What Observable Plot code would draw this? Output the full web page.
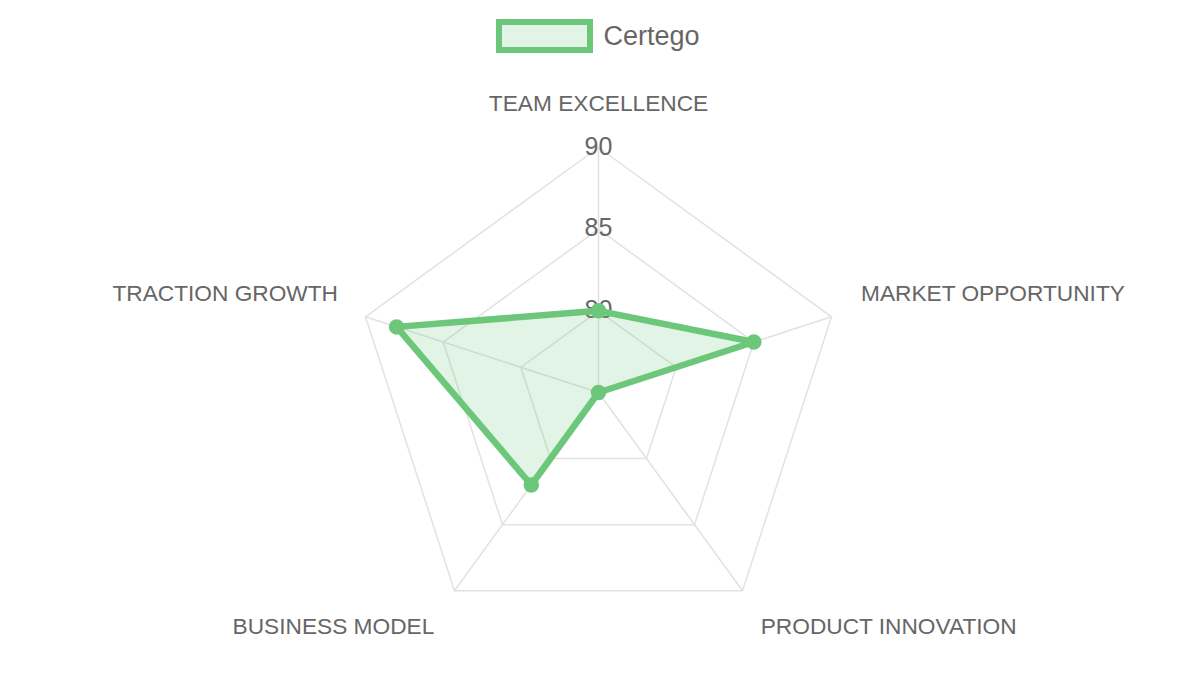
<!DOCTYPE html>
<html>
<head>
<meta charset="utf-8">
<script src="https://cdn.jsdelivr.net/npm/d3@7"></script>
<script src="https://cdn.jsdelivr.net/npm/@observablehq/plot@0.6"></script>
<style>
  html, body { margin: 0; padding: 0; background: #fff; }
  body { width: 1200px; height: 675px; overflow: hidden; font-family: "Liberation Sans", Arial, sans-serif; }
  #legend { height: 70px; display: flex; justify-content: center; align-items: flex-start; }
  #legend .item { display: flex; align-items: center; margin-top: 19px; margin-left: -4px; }
  #legend .swatch { box-sizing: border-box; width: 97px; height: 34px; border: 6px solid #6cc77b; background: rgba(108,199,123,0.2); }
  #legend .label { margin-left: 10px; font-size: 27px; color: #666; line-height: 34px; }
</style>
</head>
<body>
<div id="legend"><div class="item"><div class="swatch"></div><div class="label"></div></div></div>
<div id="chart"></div>
<script>
// ---- data ----
const categories = ["TEAM EXCELLENCE", "MARKET OPPORTUNITY", "PRODUCT INNOVATION", "BUSINESS MODEL", "TRACTION GROWTH"];
const values = [80, 85, 75, 82, 88];
const seriesName = "Certego";
const tickValues = [80, 85, 90];
const scaleMin = 75;
const scaleMax = 90;

// ---- layout ----
const W = 1200, H = 605, cx = 598, cy = 322, R = 245;
const k = R / (scaleMax - scaleMin);
const color = "#6cc77b";
const n = categories.length;
const angle = i => (2 * Math.PI * i) / n;
const pt = (i, v) => {
  const r = v - scaleMin;
  return {x: r * Math.sin(angle(i)), y: r * Math.cos(angle(i))};
};

document.querySelector("#legend .label").textContent = seriesName;

const series = values.map((v, i) => ({...pt(i, v), cat: categories[i], value: v}));
const rings = tickValues.flatMap(t => categories.map((c, i) => ({...pt(i, t), ring: t})));
const spokes = categories.flatMap((c, i) => [{...pt(i, scaleMin), cat: c}, {...pt(i, scaleMax), cat: c}]);
const ticks = tickValues.map(t => ({x: 0, y: t - scaleMin, label: String(t)}));
const labelR = scaleMax + 31 / k;
const labels = categories.map((c, i) => {
  const s = Math.sin(angle(i)), co = Math.cos(angle(i));
  return {...pt(i, labelR), cat: c,
    anchor: Math.abs(s) < 0.1 ? "middle" : s > 0 ? "start" : "end",
    upper: co > 0};
});

const font = "Liberation Sans, Arial, sans-serif";
const lbl = {x: "x", y: "y", text: "cat", fontSize: 22.7, fill: "#666"};
const chart = Plot.plot({
  width: W, height: H, margin: 0,
  style: {fontFamily: font, background: "#fff"},
  x: {domain: [-cx / k, (W - cx) / k], axis: null},
  y: {domain: [-(H - cy) / k, cy / k], axis: null},
  marks: [
    Plot.line(rings, {x: "x", y: "y", z: "ring", curve: "linear-closed", stroke: "#e2e2e2", strokeWidth: 1.5}),
    Plot.line(spokes, {x: "x", y: "y", z: "cat", stroke: "#e2e2e2", strokeWidth: 1.5}),
    Plot.text(ticks, {x: "x", y: "y", text: "label", fontSize: 25, dy: -1, fill: "#666"}),
    Plot.line(series, {x: "x", y: "y", curve: "linear-closed", fill: color, fillOpacity: 0.2, stroke: color, strokeWidth: 6.5, strokeLinejoin: "miter"}),
    Plot.dot(series, {x: "x", y: "y", r: 7, fill: color, stroke: color}),
    Plot.text(labels.filter(d => d.anchor === "middle"), {...lbl, textAnchor: "middle", dy: -13}),
    Plot.text(labels.filter(d => d.anchor === "start" && d.upper), {...lbl, textAnchor: "start", dy: -13}),
    Plot.text(labels.filter(d => d.anchor === "end" && d.upper), {...lbl, textAnchor: "end", dx: 2, dy: -13}),
    Plot.text(labels.filter(d => d.anchor === "start" && !d.upper), {...lbl, textAnchor: "start", dy: 11}),
    Plot.text(labels.filter(d => d.anchor === "end" && !d.upper), {...lbl, textAnchor: "end", dx: -2, dy: 11})
  ]
});
document.getElementById("chart").appendChild(chart);
</script>
</body>
</html>
